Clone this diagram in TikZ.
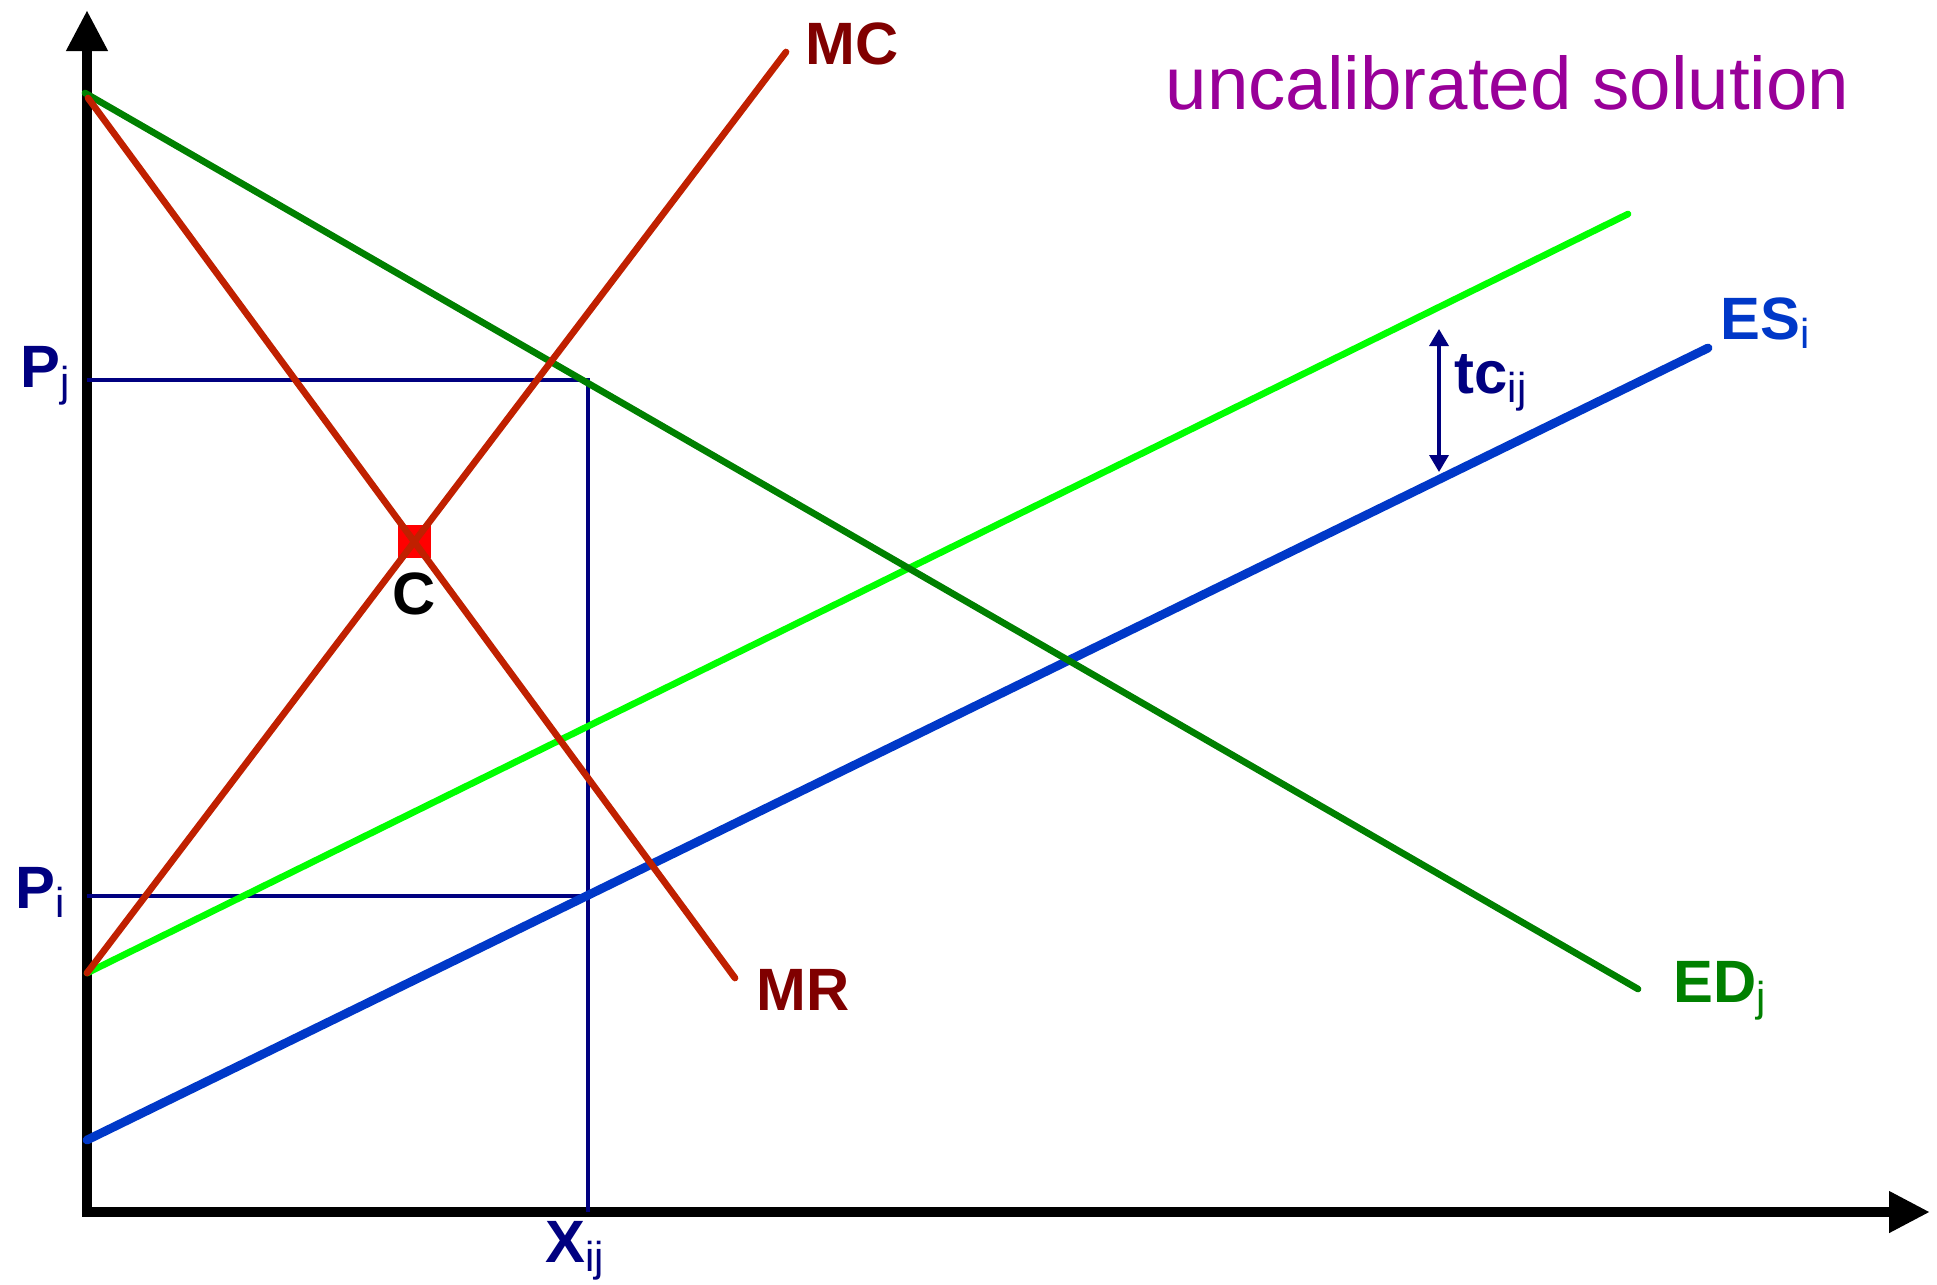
\documentclass[tikz,border=0pt]{standalone}
\usepackage{fontspec}
\setmainfont{Liberation Sans}
\usepackage{xcolor}
\usetikzlibrary{positioning}
\usetikzlibrary{arrows.meta}
\usetikzlibrary{calc}
\definecolor{edgreen}{HTML}{008000}
\definecolor{tcgreen}{HTML}{00FF00}
\definecolor{esblue}{HTML}{0038C8}
\definecolor{mcred}{HTML}{C02000}
\definecolor{lblred}{HTML}{800000}
\definecolor{navy}{HTML}{000080}
\definecolor{titlepurple}{HTML}{990099}
\tikzset{
  % The two axes of the diagram
  axisline/.style={draw=black, line width=3pt, line cap=rect,
    -{Triangle[length=0.41cm, width=0.39cm]}},
  % A demand, supply or cost curve
  curve/.style={line width=#1, line cap=round},
  curve/.default=1.9pt,
  % Thin guide lines for prices and quantity
  guide/.style={draw=navy, line width=1pt},
  % The gap between the two supply curves
  gap/.style={draw=navy, line width=1pt,
    {Triangle[length=0.17cm, width=0.19cm]}-{Triangle[length=0.17cm, width=0.19cm]}},
  % Curve and axis labels
  lbl/.style={font=\fontsize{17}{20}\selectfont\bfseries, inner sep=0pt, anchor=base west},
  % The marked solution point
  dot/.style={fill=red, draw=none, minimum size=0.33cm, inner sep=0pt},
}
\newcommand{\sbs}[1]{\textsubscript{\mdseries #1}}
\begin{document}
\begin{tikzpicture}[x=0.01cm, y=-0.01cm]
\useasboundingbox (0,0) rectangle (1937,1284);

% axes
\coordinate (O) at (87,1212);
\coordinate (yTop) at (87,10);
\coordinate (xEnd) at (1930,1212);
\draw[axisline] (O) -- (yTop);
\draw[axisline] (O) -- (xEnd);

% curve end points
\coordinate (edStart) at (85,93);
\coordinate (edEnd) at (1638,989);
\coordinate (mrStart) at (88,98);
\coordinate (mrEnd) at (735,978);
\coordinate (mcStart) at (87,973);
\coordinate (mcEnd) at (786,52);
\coordinate (tcStart) at (87,973);
\coordinate (tcEnd) at (1628,214);
\coordinate (esStart) at (87,1140);
\coordinate (esEnd) at (1708,348);

% prices and quantity of the solution
\coordinate (pjAxis) at (87,380);
\coordinate (piAxis) at (87,896);
\coordinate (sol) at (588,380);
\coordinate (solEs) at (588,896);
\coordinate (xFoot) at (588,1212);
\draw[guide] (pjAxis) -- (sol) -- (xFoot);
\draw[guide] (piAxis) -- (solEs);

\draw[curve, draw=tcgreen] (tcStart) -- (tcEnd);
\draw[curve=2.5pt, draw=esblue] (esStart) -- (esEnd);
\draw[curve, draw=edgreen] (edStart) -- (edEnd);

\coordinate (C) at (intersection of mrStart--mrEnd and mcStart--mcEnd);
\node[dot] (sq) at (C) {};
\draw[curve, draw=mcred] (mrStart) -- (mrEnd);
\draw[curve, draw=mcred] (mcStart) -- (mcEnd);

\coordinate (gapTop) at (1439,329);
\coordinate (gapBot) at (1439,472);
\draw[gap] (gapTop) -- (gapBot);

\node[lbl, text=lblred] (mcLab) at ($(mcEnd)+(19,12)$) {MC};
\node[lbl, text=lblred] (mrLab) at ($(mrEnd)+(21,32)$) {MR};
\node[lbl, text=edgreen] (edLab) at ($(edEnd)+(35,13)$) {ED\sbs{j}};
\node[lbl, text=esblue] (esLab) at ($(esEnd)+(12,-9)$) {ES\sbs{i}};
\node[lbl, text=navy] (tcLab) at ($(gapTop)+(15,64)$) {tc\sbs{ij}};
\node[lbl, text=navy] (pjLab) at ($(pjAxis)+(-67,7)$) {P\sbs{j}};
\node[lbl, text=navy] (piLab) at ($(piAxis)+(-72,12)$) {P\sbs{i}};
\node[lbl, text=navy] (xLab) at ($(xFoot)+(-43,50)$) {X\sbs{ij}};
\node[lbl, below=0.13cm of sq] (cLab) {C};

\node[font=\fontsize{21.2}{25}\selectfont, text=titlepurple, inner sep=0pt,
  anchor=base west] (title) at (1165,109) {uncalibrated solution};

\end{tikzpicture}
\end{document}
